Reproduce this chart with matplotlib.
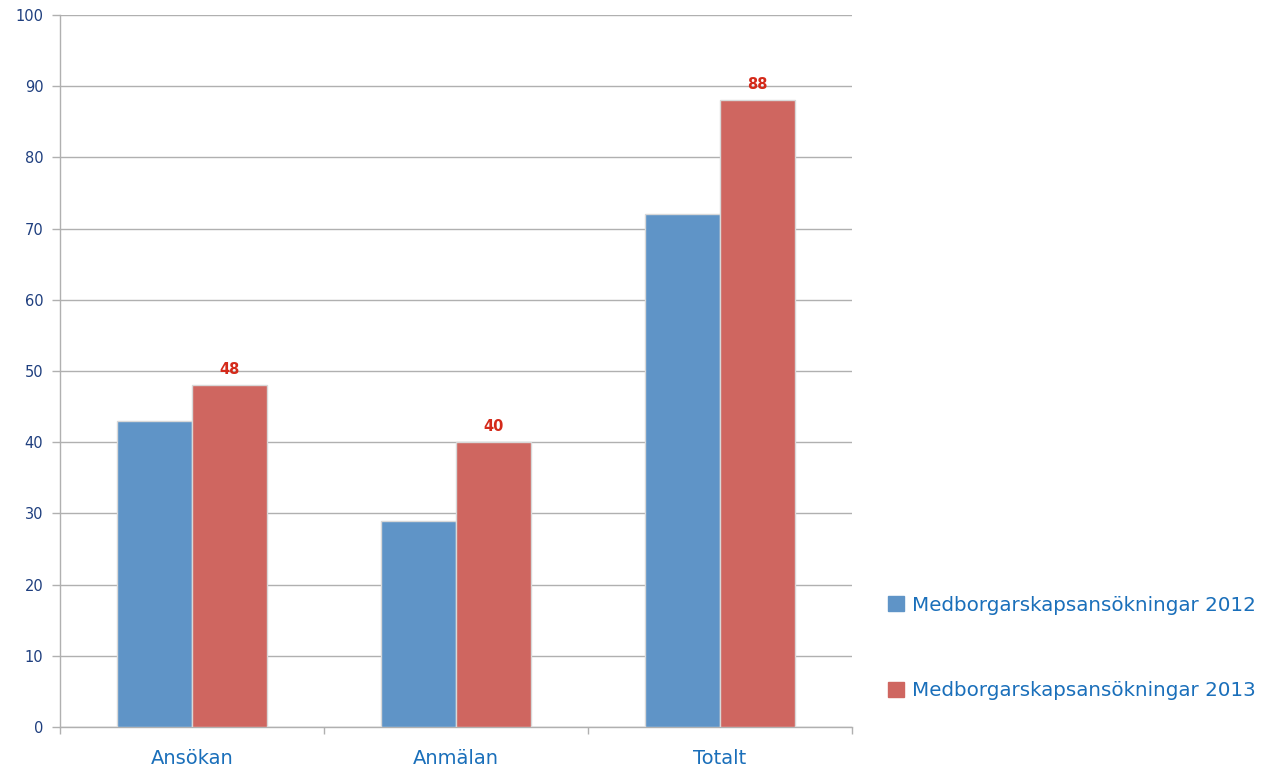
import matplotlib.pyplot as plt
import numpy as np
from matplotlib.patches import Patch

categories = ["Ansökan", "Anmälan", "Totalt"]
series_names = ["Medborgarskapsansökningar 2012", "Medborgarskapsansökningar 2013"]
values_2012 = [43, 29, 72]
values_2013 = [48, 40, 88]

blue = "#5f94c7"
red = "#cf6660"
grid_gray = "#b0b0b0"

fig = plt.figure(figsize=(12.65, 7.77), dpi=100)
ax = fig.add_axes([60 / 1265, 50 / 777, 792 / 1265, 712 / 777])

x = np.arange(len(categories))
w = 75 / 264
ax.bar(x - w / 2, values_2012, w, color=blue, edgecolor="#d8d8d8", linewidth=1, zorder=3)
bars = ax.bar(x + w / 2, values_2013, w, color=red, edgecolor="#d8d8d8", linewidth=1, zorder=3)

# only the 2013 bars carry value labels
for b, v in zip(bars, values_2013):
    ax.annotate(str(v), (b.get_x() + b.get_width() / 2, v), xytext=(0, 6),
                textcoords="offset points", ha="center", va="bottom",
                color="#d42a1a", fontsize=10.5, fontweight="bold")

ax.set_xlim(-0.5, 2.5)
ax.set_ylim(0, 100)
ax.set_yticks(range(0, 101, 10))
ax.yaxis.grid(True, color=grid_gray, linewidth=1, zorder=0)
ax.tick_params(axis="y", colors=grid_gray, labelcolor="#1f3f7f", labelsize=10.5,
               length=6, width=1, pad=6)

ax.set_xticks(x)
ax.set_xticklabels(categories)
ax.set_xticks([-0.5, 0.5, 1.5, 2.5], minor=True)
ax.tick_params(axis="x", which="major", length=0, pad=16, labelsize=14, labelcolor="#1a6fba")
ax.tick_params(axis="x", which="minor", length=5, width=1, color=grid_gray)

for s in ["top", "right"]:
    ax.spines[s].set_visible(False)
for s in ["left", "bottom"]:
    ax.spines[s].set_color(grid_gray)
    ax.spines[s].set_linewidth(1)

handles = [Patch(color=blue), Patch(color=red)]
leg = fig.legend(handles, series_names, loc="center left", bbox_to_anchor=(870 / 1265, (777 - 648) / 777),
                 frameon=False, fontsize=14.3, labelspacing=3.35, handlelength=0.8, handleheight=0.8,
                 handletextpad=0.4)
for t in leg.get_texts():
    t.set_color("#1a6fba")

fig.savefig("out.png", dpi=100)
